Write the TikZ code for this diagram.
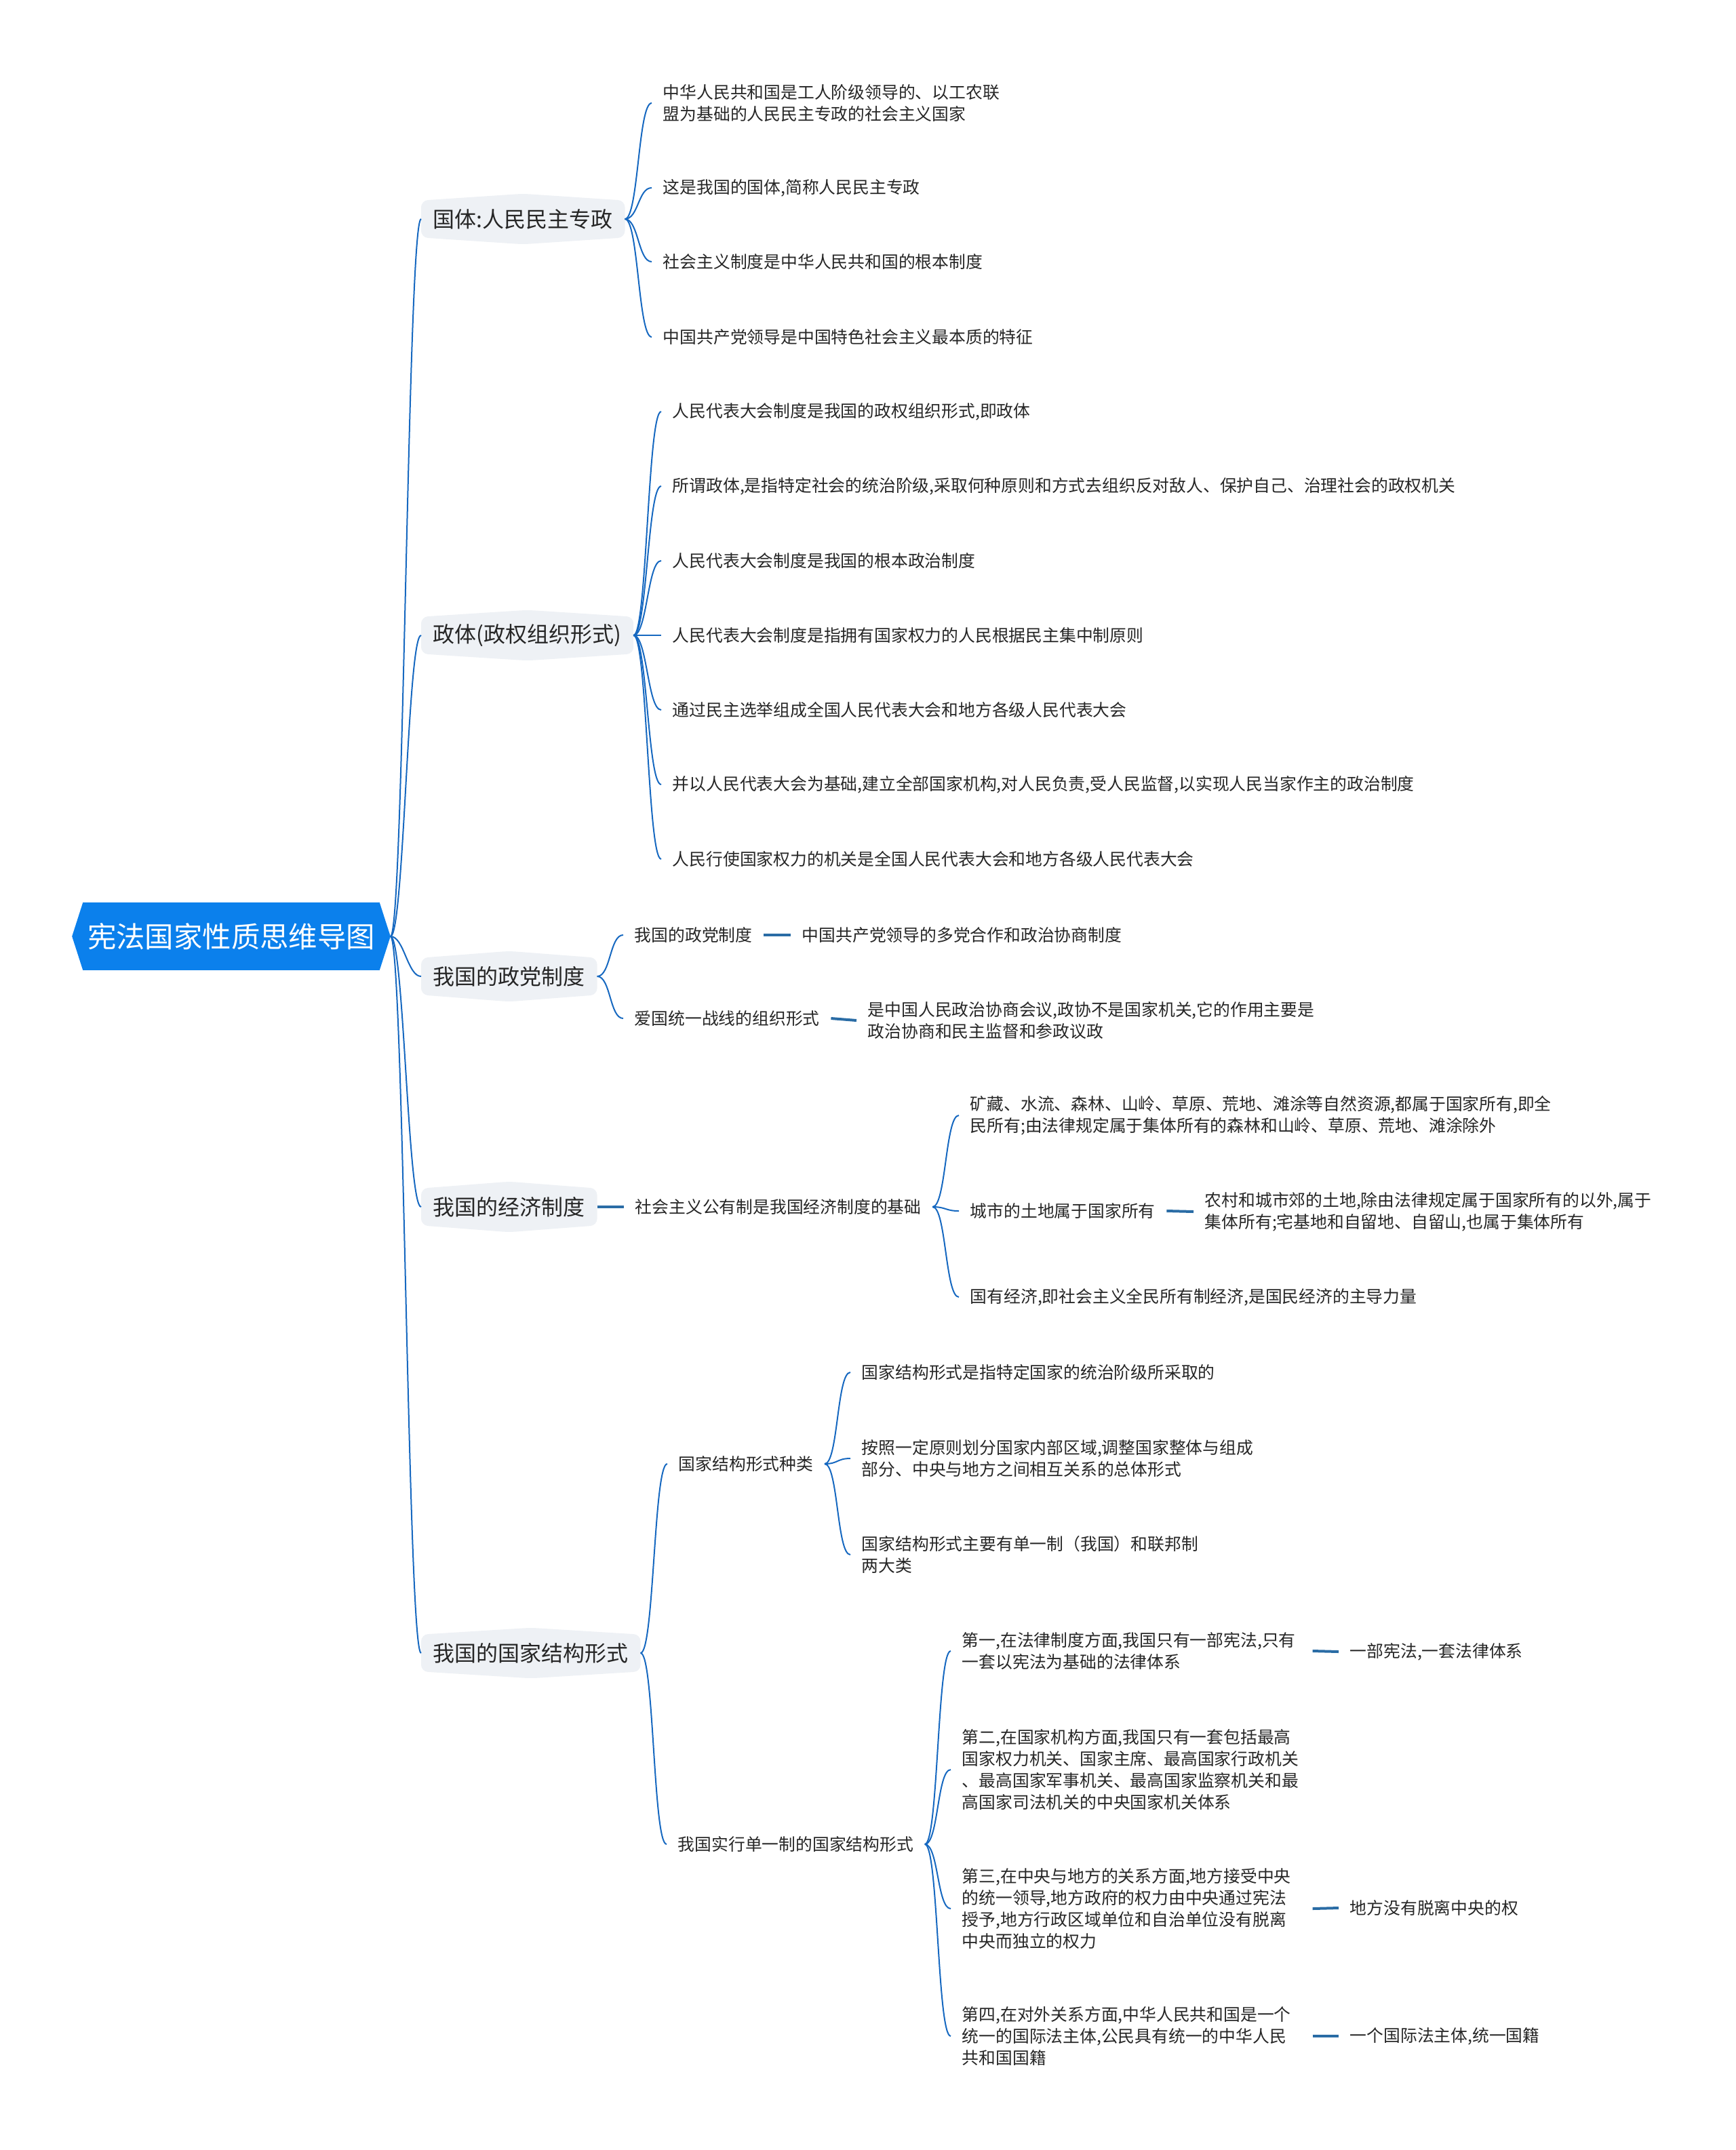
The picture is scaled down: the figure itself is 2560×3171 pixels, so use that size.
\documentclass[tikz,border=0pt]{standalone}
\usepackage{fontspec}
\setmainfont{Noto Sans CJK SC}
\usetikzlibrary{backgrounds}
\definecolor{rootc}{RGB}{11,128,236}
\definecolor{lvbg}{RGB}{238,241,245}
\definecolor{linec}{RGB}{22,104,192}
\definecolor{dashc}{RGB}{42,108,165}
\definecolor{txtc}{RGB}{38,38,38}

\begin{document}
\begin{tikzpicture}[x=0.25pt, y=-0.25pt,
  rootbox/.style={text=white, font=\fontsize{10.6pt}{13pt}\selectfont,
                  minimum height=24.5pt, inner xsep=1.5pt, inner ysep=0pt},
  lv/.style={anchor=west, font=\fontsize{8pt}{10pt}\selectfont, text=txtc,
             inner xsep=4.25pt, inner ysep=0pt, minimum height=13.25pt},
  leaf/.style={anchor=west, font=\fontsize{6.2pt}{8pt}\selectfont, text=txtc,
               align=left, inner xsep=4pt, inner ysep=1pt},
  wide/.style={leaf, text width=125pt},
  cv/.style={linec, line width=0.5pt},
  dl/.style={dashc, line width=1pt}]
\useasboundingbox (0,0) rectangle (2560,3171);
\node[rootbox] (root) at (341,1381) {宪法国家性质思维导图};
\coordinate (rtip) at ([xshift=4pt]root.east);
\node[lv] (gt) at (621,323) {国体:人民民主专政};
\node[lv] (zt) at (621,937) {政体(政权组织形式)};
\node[lv] (zd) at (621,1440) {我国的政党制度};
\node[lv] (jj) at (621,1780) {我国的经济制度};
\node[lv] (jg) at (621,2438) {我国的国家结构形式};
\node[leaf] (g1) at (961,152) {中华人民共和国是工人阶级领导的、以工农联\\盟为基础的人民民主专政的社会主义国家};
\node[leaf] (g2) at (961,277) {这是我国的国体,简称人民民主专政};
\node[leaf] (g3) at (961,386) {社会主义制度是中华人民共和国的根本制度};
\node[leaf] (g4) at (961,497) {中国共产党领导是中国特色社会主义最本质的特征};
\node[leaf] (z1) at (975,607) {人民代表大会制度是我国的政权组织形式,即政体};
\node[leaf] (z2) at (975,717) {所谓政体,是指特定社会的统治阶级,采取何种原则和方式去组织反对敌人、保护自己、治理社会的政权机关};
\node[leaf] (z3) at (975,827) {人民代表大会制度是我国的根本政治制度};
\node[leaf] (z4) at (975,937) {人民代表大会制度是指拥有国家权力的人民根据民主集中制原则};
\node[leaf] (z5) at (975,1047) {通过民主选举组成全国人民代表大会和地方各级人民代表大会};
\node[leaf] (z6) at (975,1157) {并以人民代表大会为基础,建立全部国家机构,对人民负责,受人民监督,以实现人民当家作主的政治制度};
\node[leaf] (z7) at (975,1267) {人民行使国家权力的机关是全国人民代表大会和地方各级人民代表大会};
\node[leaf] (p1) at (919,1379) {我国的政党制度};
\node[leaf] (p1a) at (1166,1379) {中国共产党领导的多党合作和政治协商制度};
\node[leaf] (p2) at (919,1502) {爱国统一战线的组织形式};
\node[leaf] (p2a) at (1263,1505) {是中国人民政治协商会议,政协不是国家机关,它的作用主要是\\政治协商和民主监督和参政议政};
\node[leaf] (e1) at (920,1780) {社会主义公有制是我国经济制度的基础};
\node[leaf] (e1a) at (1414,1645) {矿藏、水流、森林、山岭、草原、荒地、滩涂等自然资源,都属于国家所有,即全\\民所有;由法律规定属于集体所有的森林和山岭、草原、荒地、滩涂除外};
\node[leaf] (e1b) at (1414,1786) {城市的土地属于国家所有};
\node[leaf] (e1b1) at (1760,1787) {农村和城市郊的土地,除由法律规定属于国家所有的以外,属于\\集体所有;宅基地和自留地、自留山,也属于集体所有};
\node[leaf] (e1c) at (1414,1913) {国有经济,即社会主义全民所有制经济,是国民经济的主导力量};
\node[leaf] (s1) at (984,2159) {国家结构形式种类};
\node[leaf] (s1a) at (1254,2024) {国家结构形式是指特定国家的统治阶级所采取的};
\node[leaf] (s1b) at (1254,2151) {按照一定原则划分国家内部区域,调整国家整体与组成\\部分、中央与地方之间相互关系的总体形式};
\node[leaf] (s1c) at (1254,2293) {国家结构形式主要有单一制（我国）和联邦制\\两大类};
\node[leaf] (s2) at (983,2720) {我国实行单一制的国家结构形式};
\node[wide] (s2a) at (1402,2435) {第一,在法律制度方面,我国只有一部宪法,只有\\一套以宪法为基础的法律体系};
\node[wide] (s2b) at (1402,2610) {第二,在国家机构方面,我国只有一套包括最高\\国家权力机关、国家主席、最高国家行政机关\\、最高国家军事机关、最高国家监察机关和最\\高国家司法机关的中央国家机关体系};
\node[wide] (s2c) at (1402,2815) {第三,在中央与地方的关系方面,地方接受中央\\的统一领导,地方政府的权力由中央通过宪法\\授予,地方行政区域单位和自治单位没有脱离\\中央而独立的权力};
\node[wide] (s2d) at (1402,3003) {第四,在对外关系方面,中华人民共和国是一个\\统一的国际法主体,公民具有统一的中华人民\\共和国国籍};
\node[leaf] (s2a1) at (1974,2436) {一部宪法,一套法律体系};
\node[leaf] (s2c1) at (1974,2814) {地方没有脱离中央的权};
\node[leaf] (s2d1) at (1974,3003) {一个国际法主体,统一国籍};
\begin{scope}[on background layer]
\fill[rootc] (root.north west) -- (root.north east) -- (rtip) -- (root.south east)
  -- (root.south west) -- ([xshift=-4pt]root.west) -- cycle;
\foreach \n in {gt,zt,zd,jj,jg}
  \fill[lvbg, rounded corners=2.5pt] (\n.north west) -- ([yshift=2.5pt]\n.north)
    -- (\n.north east) -- (\n.south east) -- ([yshift=-2.5pt]\n.south)
    -- (\n.south west) -- cycle;
\end{scope}
\foreach \b in {gt, zt, zd, jj, jg}
  \draw[cv] (rtip) .. controls +(20,0) and +(-20,0) .. (\b.west);
\foreach \a/\b in {gt/g1, gt/g2, gt/g3, gt/g4,
                   zt/z1, zt/z2, zt/z3, zt/z4, zt/z5, zt/z6, zt/z7,
                   zd/p1, zd/p2, e1/e1a, e1/e1b, e1/e1c,
                   jg/s1, jg/s2, s1/s1a, s1/s1b, s1/s1c,
                   s2/s2a, s2/s2b, s2/s2c, s2/s2d}
  \draw[cv] (\a.east) .. controls +(20,0) and +(-20,0) .. (\b.west);
\foreach \a/\b in {p1/p1a, p2/p2a, jj/e1, e1b/e1b1, s2a/s2a1, s2c/s2c1, s2d/s2d1}
  \draw[dl] (\a.east) -- (\b.west);
\end{tikzpicture}
\end{document}
